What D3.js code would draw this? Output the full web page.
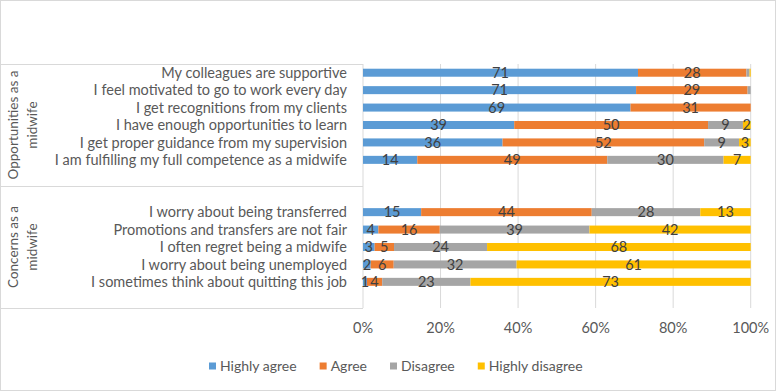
<!DOCTYPE html>
<html>
<head>
<meta charset="utf-8">
<script src="https://cdn.jsdelivr.net/npm/d3@7"></script>
<style>
  body { margin: 0; background: #fff; }
  text { font-family: Lato, "Open Sans", sans-serif; }
</style>
</head>
<body>
<div id="chart"></div>
<script>
// Likert responses of midwives, 100% stacked bars

const width = 779;
const height = 392;

const opportunityItems = [
  "My colleagues are supportive",
  "I feel motivated to go to work every day",
  "I get recognitions from my clients",
  "I have enough opportunities to learn",
  "I get proper guidance from my supervision",
  "I am fulfilling my full competence as a midwife"
];
const concernItems = [
  "I worry about being transferred",
  "Promotions and transfers are not fair",
  "I often regret being a midwife",
  "I worry about being unemployed",
  "I sometimes think about quitting this job"
];
const groupNames = [["Opportunities as a", "midwife"], ["Concerns as a", "midwife"]];

const seriesNames = ["Highly agree", "Agree", "Disagree", "Highly disagree"];
const seriesColors = ["#5b9bd5", "#ed7d31", "#a5a5a5", "#ffc000"];

// same order as opportunityItems then concernItems
const highlyAgree    = [71, 71, 69, 39, 36, 14, 15, 4, 3, 2, 1];
const agree          = [28, 29, 31, 50, 52, 49, 44, 16, 5, 6, 4];
const disagree       = [0.8, 0.8, 0, 9, 9, 30, 28, 39, 24, 32, 23];
const highlyDisagree = [0.3, 0, 0, 2, 3, 7, 13, 42, 68, 61, 73];

const tickLabels = ["0%", "20%", "40%", "60%", "80%", "100%"];

// slots: 6 opportunity rows + 1 blank, 1 blank + 5 concern rows + 1 blank
const items = opportunityItems.concat(concernItems);
const slots = [...opportunityItems, "_gap1", "_gap2", ...concernItems, "_gap3"];

const rows = items.map((name, i) => ({
  name,
  "Highly agree": highlyAgree[i],
  "Agree": agree[i],
  "Disagree": disagree[i],
  "Highly disagree": highlyDisagree[i]
}));

const plot = { left: 363, right: 750.7, top: 64, bottom: 308 };

const x = d3.scaleLinear().domain([0, 1]).range([plot.left, plot.right]);
const y = d3.scaleBand().domain(slots).range([plot.top, plot.bottom])
  .paddingInner(0.54).paddingOuter(0.27);

const stack = d3.stack().keys(seriesNames).offset(d3.stackOffsetExpand);
const stacked = stack(rows);

const svg = d3.select("#chart").append("svg")
  .attr("width", width).attr("height", height);

svg.append("rect")
  .attr("x", 0.5).attr("y", 0.5)
  .attr("width", 775).attr("height", 390)
  .attr("fill", "#fff").attr("stroke", "#d9d9d9");

// gridlines
svg.append("g").selectAll("line")
  .data(d3.range(1, 6).map(d => d / 5))
  .join("line")
  .attr("x1", d => x(d)).attr("x2", d => x(d))
  .attr("y1", plot.top).attr("y2", plot.bottom)
  .attr("stroke", "#d9d9d9").attr("stroke-width", 1);

// category box on the left
const groupBounds = [plot.top, (plot.top + plot.bottom) / 2, plot.bottom];
const box = svg.append("g");
groupBounds.forEach(b => {
  box.append("line")
    .attr("x1", 1).attr("x2", plot.left)
    .attr("y1", Math.round(b) + 0.5).attr("y2", Math.round(b) + 0.5)
    .attr("stroke", "#d9d9d9");
});
box.append("line")
  .attr("x1", plot.left).attr("x2", plot.left)
  .attr("y1", plot.top).attr("y2", plot.bottom)
  .attr("stroke", "#d9d9d9");

// group labels, rotated
groupNames.forEach((lines, gi) => {
  const cy = (groupBounds[gi] + groupBounds[gi + 1]) / 2;
  const g = svg.append("g").attr("transform", `translate(0,${cy}) rotate(-90)`);
  lines.forEach((t, li) => {
    g.append("text")
      .attr("x", 0).attr("y", 18 + li * 19)
      .attr("text-anchor", "middle")
      .attr("font-size", 13.5)
      .attr("fill", "#595959")
      .text(t);
  });
});

// item labels
svg.append("g").selectAll("text")
  .data(items)
  .join("text")
  .attr("x", 347)
  .attr("y", d => y(d) + y.bandwidth() / 2)
  .attr("dy", "0.35em")
  .attr("text-anchor", "end")
  .attr("font-size", 14.5)
  .attr("fill", "#595959")
  .text(d => d);

// bars
const layer = svg.append("g").selectAll("g")
  .data(stacked)
  .join("g")
  .attr("fill", (d, i) => seriesColors[i]);

layer.selectAll("rect")
  .data(d => d)
  .join("rect")
  .attr("x", d => x(d[0]))
  .attr("y", d => y(d.data.name))
  .attr("width", d => Math.max(0, x(d[1]) - x(d[0])))
  .attr("height", y.bandwidth());

// value labels
stacked.forEach(s => {
  svg.append("g").selectAll("text")
    .data(s.filter(d => d.data[s.key] >= 1))
    .join("text")
    .attr("x", d => x((d[0] + d[1]) / 2))
    .attr("y", d => y(d.data.name) + y.bandwidth() / 2)
    .attr("dy", "0.36em")
    .attr("text-anchor", "middle")
    .attr("font-size", 14.5)
    .attr("fill", "#404040")
    .text(d => d.data[s.key]);
});

// x axis tick labels
svg.append("g").selectAll("text")
  .data(tickLabels)
  .join("text")
  .attr("x", (d, i) => x(i / 5))
  .attr("y", 328)
  .attr("dy", "0.35em")
  .attr("text-anchor", "middle")
  .attr("font-size", 14.5)
  .attr("fill", "#595959")
  .text(d => d);

// legend
const legend = svg.append("g").attr("transform", "translate(209,366)");
let lx = 0;
seriesNames.forEach((name, i) => {
  legend.append("rect")
    .attr("x", lx).attr("y", -3.5)
    .attr("width", 7).attr("height", 7)
    .attr("fill", seriesColors[i]);
  const t = legend.append("text")
    .attr("x", lx + 11).attr("y", 0)
    .attr("dy", "0.35em")
    .attr("font-size", 14)
    .attr("fill", "#595959")
    .text(name);
  lx += 11 + t.node().getComputedTextLength() + 23;
});
</script>
</body>
</html>
